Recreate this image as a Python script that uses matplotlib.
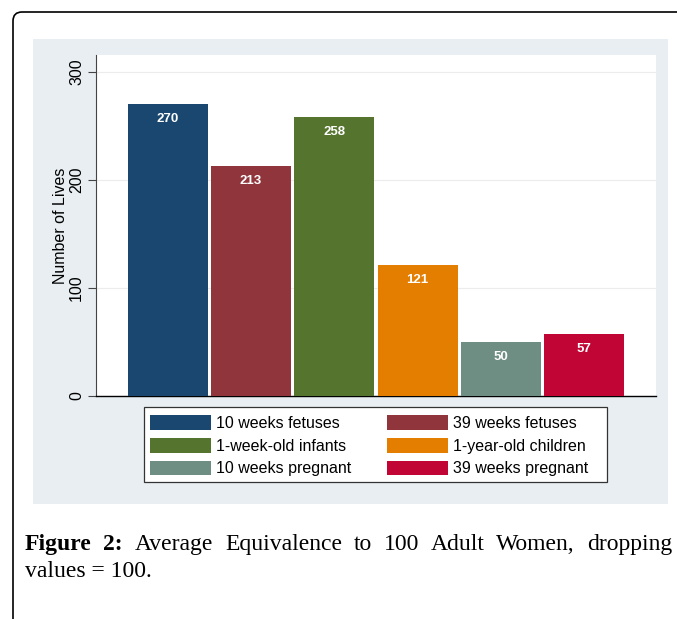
import matplotlib
matplotlib.use("Agg")
import matplotlib.pyplot as plt
from matplotlib.patches import Rectangle, FancyBboxPatch

categories = ["10 weeks fetuses", "39 weeks fetuses", "1-week-old infants",
              "1-year-old children", "10 weeks pregnant", "39 weeks pregnant"]
values = [270, 213, 258, 121, 50, 57]
colors = ["#1a476f", "#90353b", "#55752f", "#e37e00", "#6e8e84", "#c10534"]
yticks = [0, 100, 200, 300]
ylabel = "Number of Lives"
caption_bold = ["Figure", "2:"]
caption_line1 = ["Average", "Equivalence", "to", "100", "Adult", "Women,", "dropping"]
caption_line2 = "values = 100."

W, H = 677, 619
fig = plt.figure(figsize=(W / 100, H / 100), dpi=100)
fig.patch.set_facecolor("white")

# outer rounded frame (inches coords)
frame = FancyBboxPatch((0.13, -1.0), 8.0, (H - 12) / 100 + 1.0,
                       boxstyle="round,pad=0,rounding_size=0.09",
                       transform=fig.dpi_scale_trans, facecolor="none",
                       edgecolor="black", linewidth=1.2, zorder=-2)
fig.add_artist(frame)

# graph region background
bg = Rectangle((0.33, (H - 504) / 100), 6.35, 4.65, transform=fig.dpi_scale_trans,
               facecolor="#e8eef1", edgecolor="none", zorder=-1)
fig.add_artist(bg)

# legend box
lbox = Rectangle((1.44, (H - 482) / 100), 4.63, 0.75, transform=fig.dpi_scale_trans,
                 facecolor="white", edgecolor="#333333", linewidth=0.9, zorder=2)
fig.add_artist(lbox)

ax = fig.add_axes([96 / W, (H - 396) / H, 560 / W, 341 / H])
ax.set_zorder(1)
ax.set_facecolor("white")
x = list(range(len(values)))
bars = ax.bar(x, values, width=0.96, color=colors, edgecolor="none", zorder=3)
ax.set_xlim(-0.86, 5.86)
ax.set_ylim(0, 315.7)

for xi, v in zip(x, values):
    ax.annotate(str(v), (xi, v), xytext=(0, -10.5), textcoords="offset points",
                ha="center", va="center", color="white", fontsize=9.5,
                fontweight="bold", family="Liberation Sans", zorder=4)

ax.set_yticks(yticks)
ax.set_yticklabels([str(t) for t in yticks], rotation=90, va="center",
                   family="Liberation Sans", fontsize=11.5)
ax.tick_params(axis="y", length=5.5, width=0.8, color="#444444", pad=3)
ax.set_xticks([])
ax.yaxis.grid(True, color="#ececec", linewidth=0.8, zorder=0)
ax.set_axisbelow(True)
for s in ["top", "right"]:
    ax.spines[s].set_visible(False)
ax.spines["left"].set_color("#444444")
ax.spines["left"].set_linewidth(0.8)
ax.spines["bottom"].set_color("black")
ax.spines["bottom"].set_linewidth(1.0)
ax.set_ylabel(ylabel, family="Liberation Sans", fontsize=11.5, labelpad=1)

order = [0, 2, 4, 1, 3, 5]
leg = fig.legend([bars[i] for i in order], [categories[i] for i in order],
                 loc="upper left", bbox_to_anchor=(144 / W, 1 - 409 / H),
                 ncol=2, prop={"family": "Liberation Sans", "size": 11.5},
                 handlelength=3.8, handleheight=1.05, handletextpad=0.3,
                 columnspacing=2.25, labelspacing=0.42, borderpad=0.4,
                 borderaxespad=0, frameon=False)
leg.set_zorder(3)

# caption (justified first line)
fig.canvas.draw()
renderer = fig.canvas.get_renderer()
left_px, right_px = 25, 672
base1 = H - 550
base2 = H - 577
words = [(w, "bold") for w in caption_bold] + [(w, "normal") for w in caption_line1]
texts = []
for w, wt in words:
    t = fig.text(0, base1 / H, w, family="Liberation Serif", fontsize=17,
                 fontweight=wt, va="baseline", ha="left")
    texts.append(t)
fig.canvas.draw()
widths = [t.get_window_extent(renderer).width for t in texts]
gap = (right_px - left_px - sum(widths)) / (len(texts) - 1)
cur = left_px
for t, wd in zip(texts, widths):
    t.set_x(cur / W)
    cur += wd + gap
fig.text(left_px / W, base2 / H, caption_line2, family="Liberation Serif",
         fontsize=17, va="baseline", ha="left")

fig.savefig("out.png", dpi=100)
